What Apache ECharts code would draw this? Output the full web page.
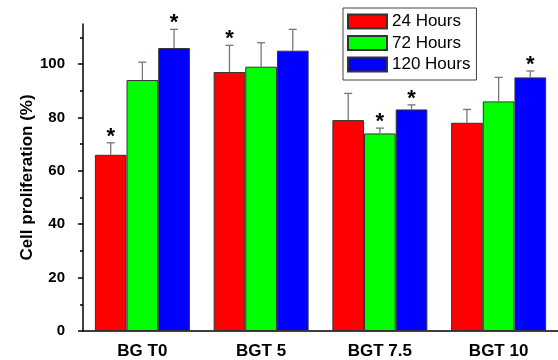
<!DOCTYPE html>
<html><head><meta charset="utf-8">
<script src="https://cdn.jsdelivr.net/npm/echarts@6/dist/echarts.min.js"></script>
<style>html,body{margin:0;padding:0;background:#fff}#c{width:558px;height:360px}</style>
</head><body><div id="c"></div>
<script>
const categories = ['BG T0', 'BGT 5', 'BGT 7.5', 'BGT 10'];
const seriesNames = ['24 Hours', '72 Hours', '120 Hours'];
const colors = ['#ff0000', '#00ff00', '#0000ff'];
const means24 = [66, 97, 79, 78];
const means72 = [94, 99, 74, 86];
const means120 = [106, 105, 83, 95];
const upper24 = [70.5, 107, 89, 83];
const upper72 = [100.7, 108, 76, 95];
const upper120 = [113, 113, 84.7, 97.4];
const star24 = [1, 1, 0, 0];
const star72 = [0, 0, 1, 0];
const star120 = [1, 0, 1, 1];
const yTicks = [0, 20, 40, 60, 80, 100];

const means = [means24, means72, means120];
const uppers = [upper24, upper72, upper120];
const stars = [star24, star72, star120];
const FONT = 'Liberation Sans, Arial, sans-serif';

const chart = echarts.init(document.getElementById('c'));
const series = [];
means.forEach((m, i) => {
  series.push({
    name: seriesNames[i], type: 'bar', data: m,
    barGap: '0%', barCategoryGap: '20%',
    itemStyle: { color: colors[i], borderColor: '#333', borderWidth: 1 },
    z: 2
  });
});
means.forEach((m, si) => {
  series.push({
    type: 'custom', z: 3, silent: true,
    data: m.map((v, k) => [k, v, uppers[si][k], stars[si][k]]),
    renderItem: (params, api) => {
      const c = api.value(0), v = api.value(1), e = api.value(2), s = api.value(3);
      const base = api.coord([c, v]);
      const top = api.coord([c, e]);
      const bw = api.size([1, 0])[0] * 0.8 / 3;
      const x = base[0] + (si - 1) * bw;
      const st = { stroke: '#777', lineWidth: 1.3 };
      const children = [
        { type: 'line', shape: { x1: x, y1: base[1], x2: x, y2: top[1] }, style: st },
        { type: 'line', shape: { x1: x - 4, y1: top[1], x2: x + 4, y2: top[1] }, style: st }
      ];
      if (s) {
        children.push({ type: 'text', style: { text: '*', x: x, y: top[1] + 5, align: 'center', verticalAlign: 'bottom',
          font: 'bold 22px ' + FONT, fill: '#000' } });
      }
      return { type: 'group', children };
    }
  });
});

chart.setOption({
  animation: false,
  legend: {
    data: seriesNames, orient: 'vertical', left: 343, top: 8,
    itemWidth: 39, itemHeight: 14, itemGap: 4.5,
    borderColor: '#444', borderWidth: 1, padding: [5, 6, 7, 4],
    icon: 'rect',
    textStyle: { fontFamily: FONT, fontSize: 17, lineHeight: 14, color: '#000' }
  },
  grid: { left: 83, top: 24, width: 480, height: 308 },
  xAxis: [{
    type: 'category', data: categories,
    axisLine: { lineStyle: { color: '#000', width: 1.5 } },
    axisTick: { alignWithLabel: true, length: 5, lineStyle: { color: '#000', width: 1.5 } },
    axisLabel: { fontFamily: FONT, fontWeight: 'bold', fontSize: 17, color: '#000', margin: 12 }
  }, {
    type: 'category', data: categories, position: 'bottom',
    axisLine: { show: false },
    axisTick: { length: 3, lineStyle: { color: '#000', width: 1.5 } },
    axisLabel: { show: false }
  }],
  yAxis: {
    type: 'value', min: 0, max: 115, interval: 20,
    name: 'Cell proliferation (%)', nameLocation: 'middle', nameGap: 47, nameMoveOverlap: false,
    nameTextStyle: { fontFamily: FONT, fontWeight: 'bold', fontSize: 17, color: '#000' },
    axisLine: { show: true, lineStyle: { color: '#000', width: 1.5 } },
    axisTick: { show: true, length: 5, customValues: yTicks, lineStyle: { color: '#000', width: 1.5 } },
    minorTick: { show: true, splitNumber: 2, length: 3, lineStyle: { color: '#000', width: 1.5 } },
    splitLine: { show: false },
    axisLabel: { customValues: yTicks, fontFamily: FONT, fontWeight: 'bold', fontSize: 15, color: '#000', margin: 18 }
  },
  series
});
</script></body></html>
